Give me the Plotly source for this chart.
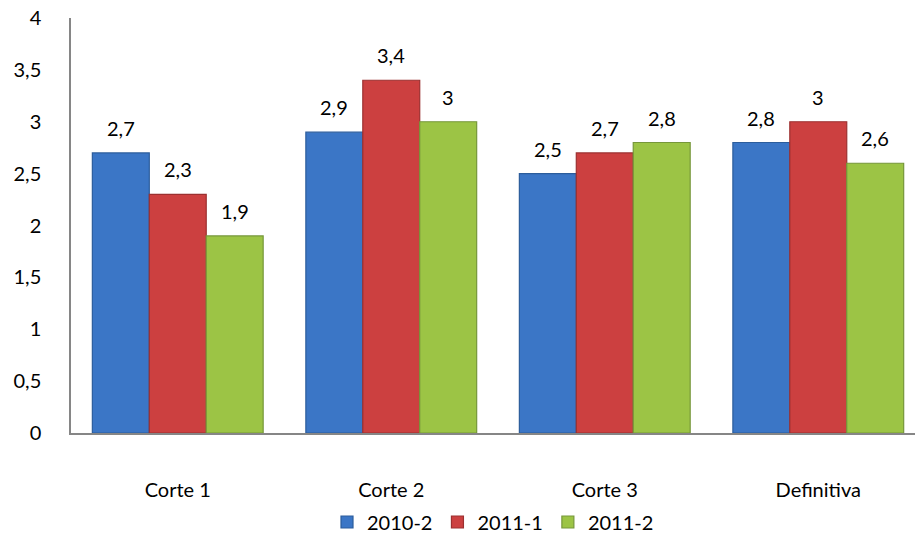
import plotly.graph_objects as go

categories = ["Corte 1", "Corte 2", "Corte 3", "Definitiva"]
series_names = ["2010-2", "2011-1", "2011-2"]
values_2010_2 = [2.7, 2.9, 2.5, 2.8]
values_2011_1 = [2.3, 3.4, 2.7, 3.0]
values_2011_2 = [1.9, 3.0, 2.8, 2.6]
y_ticks = [0, 0.5, 1, 1.5, 2, 2.5, 3, 3.5, 4]

series_values = [values_2010_2, values_2011_1, values_2011_2]
fill_colors = ["#3b76c6", "#cc4040", "#9cc445"]
edge_colors = ["#2c5d9c", "#9c3030", "#76973a"]

FONT = "Lato, Open Sans, sans-serif"

fig = go.Figure()
for name, vals, fc, ec in zip(series_names, series_values, fill_colors, edge_colors):
    fig.add_trace(go.Bar(
        x=categories, y=vals, name=name,
        marker=dict(color=fc, line=dict(color=ec, width=1.2)),
    ))

def fmt(v):
    s = f"{v:g}"
    return s.replace(".", ",")

# value labels above each bar, shifted onto their bar within the group
bar_px = 57
for i, vals in enumerate(series_values):
    for cat, v in zip(categories, vals):
        fig.add_annotation(
            x=cat, y=v, text=fmt(v), showarrow=False,
            xshift=(i - 1) * bar_px, yshift=25,
            font=dict(family=FONT, size=20, color="#000000"),
        )

fig.update_layout(
    width=915, height=537,
    margin=dict(l=71, r=0, t=18, b=104, autoexpand=False),
    paper_bgcolor="white", plot_bgcolor="white",
    barmode="group", bargap=0.2, bargroupgap=0,
    separators=",.",
    font=dict(family=FONT, size=20, color="#000000"),
    showlegend=True,
    legend=dict(orientation="h", x=0.5, xanchor="center", y=-0.2145, yanchor="middle",
                bgcolor="rgba(0,0,0,0)",
                font=dict(family=FONT, size=20), tracegroupgap=0),
    xaxis=dict(range=[-0.5, 3.453], showline=True, linecolor="#868686", linewidth=1.5,
               ticks="", showgrid=False, zeroline=False, ticklabelstandoff=38),
    yaxis=dict(range=[0, 4], tickvals=y_ticks, showline=True, linecolor="#868686",
               linewidth=1.5, ticks="", showgrid=False, zeroline=False,
               ticklabelstandoff=24),
)

fig.write_html("out.html")
